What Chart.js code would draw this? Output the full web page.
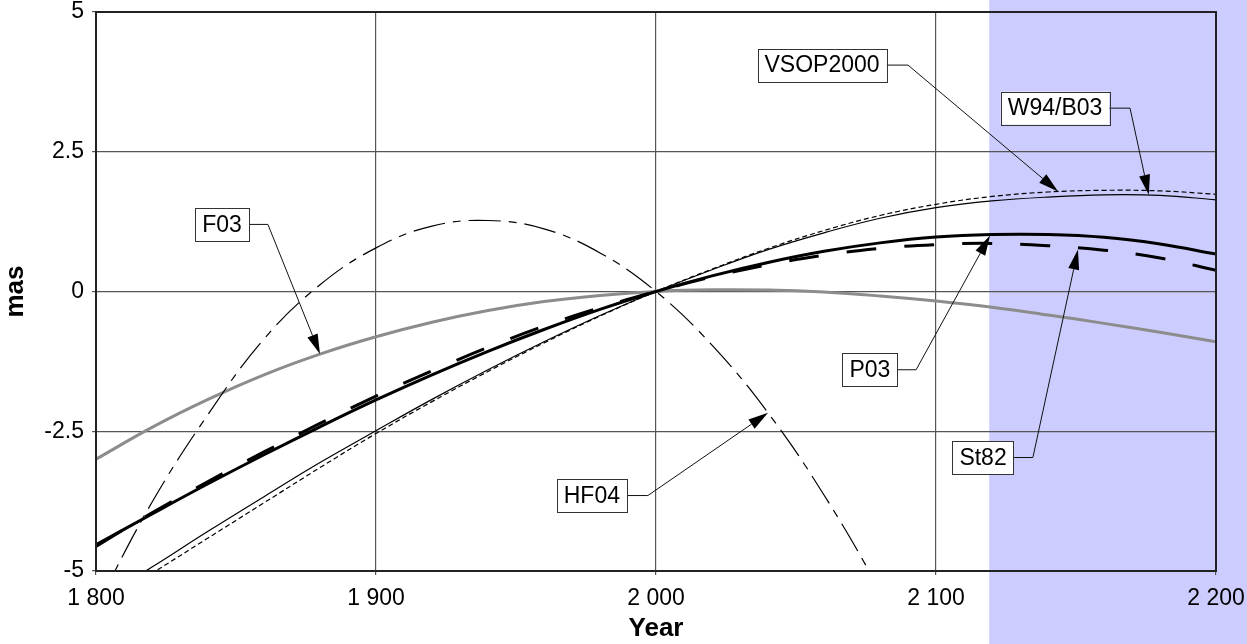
<!DOCTYPE html>
<html><head><meta charset="utf-8">
<script src="https://cdn.jsdelivr.net/npm/chart.js@4/dist/chart.umd.min.js"></script>
<style>html,body{margin:0;padding:0;background:#fff;} canvas{display:block;}</style>
</head><body>
<canvas id="c" width="1247" height="644"></canvas>
<script>
// ---- data ----
const years     = [1800,1820,1840,1860,1880,1900,1920,1940,1960,1980,2000,2020,2040,2060,2080,2100,2120,2140,2160,2180,2200];
const vsop2000  = [-5.55,-4.93,-4.29,-3.67,-3.06,-2.49,-1.93,-1.40,-0.90,-0.43,0,0.39,0.75,1.05,1.31,1.50,1.62,1.69,1.73,1.72,1.64];
const w94b03    = [-5.65,-5.04,-4.41,-3.78,-3.15,-2.54,-1.97,-1.43,-0.92,-0.44,0,0.40,0.77,1.09,1.36,1.56,1.70,1.78,1.81,1.80,1.74];
const p03       = [-4.53,-3.98,-3.44,-2.92,-2.42,-1.94,-1.49,-1.07,-0.68,-0.32,0,0.28,0.52,0.72,0.87,0.975,1.02,1.02,0.97,0.85,0.67];
const st82      = [-4.56,-3.96,-3.40,-2.87,-2.36,-1.87,-1.42,-1.00,-0.62,-0.29,0,0.26,0.48,0.65,0.77,0.84,0.86,0.82,0.74,0.60,0.38];
const f03       = [-3.00,-2.43,-1.93,-1.49,-1.12,-0.81,-0.55,-0.34,-0.18,-0.07,0,0.03,0.026,-0.01,-0.08,-0.17,-0.28,-0.42,-0.57,-0.73,-0.90];
const hf04      = [-5.65,-3.77,-2.20,-0.85,0.12,0.78,1.17,1.27,1.12,0.69,0,-0.96,-2.17,-3.64,-5.36,-7.32,null,null,null,null,null];
const xTicks      = [1800,1900,2000,2100,2200];
const xTickLabels = ['1 800','1 900','2 000','2 100','2 200'];
const yTicks      = [-5,-2.5,0,2.5,5];
const yTickLabels = ['-5','-2.5','0','2.5','5'];
const shadeStartYear = 2119;

// callout labels: box centre, knee of leader, arrow tip (data coordinates)
const callouts = [
  {text:'VSOP2000', box:[2059.3,4.05], knee:[2090,4.05],  tip:[2143.6,1.79]},
  {text:'W94/B03',  box:[2142.5,3.28], knee:[2169.3,3.28],tip:[2176,1.73]},
  {text:'F03',      box:[1845,1.20],   knee:[1861.4,1.20],tip:[1880,-1.12]},
  {text:'HF04',     box:[1977.1,-3.65],knee:[1997.1,-3.65],tip:[2040,-2.17]},
  {text:'P03',      box:[2076.4,-1.40],knee:[2092.9,-1.40],tip:[2119.3,1.00]},
  {text:'St82',     box:[2116.8,-2.97],knee:[2134.6,-2.97],tip:[2150.7,0.75]}
];

const FONT = '"Liberation Sans", Arial, sans-serif';
Chart.defaults.font.family = FONT;
Chart.defaults.color = '#000';

const pts = arr => years.map((y,i)=>({x:y, y:arr[i]}));

const plugin = {
  id:'deco',
  beforeDraw(chart){
    const {ctx,width,height} = chart;
    const x = chart.scales.x;
    ctx.save();
    ctx.fillStyle='#fff'; ctx.fillRect(0,0,width,height);
    const xs = x.getPixelForValue(shadeStartYear);
    ctx.fillStyle='#ccccff'; ctx.fillRect(xs,0,width-xs,height);
    ctx.restore();
  },
  afterDatasetsDraw(chart){
    const {ctx,chartArea:a} = chart;
    const x = chart.scales.x, y = chart.scales.y;
    ctx.save();
    ctx.strokeStyle='#222'; ctx.lineWidth=2;
    ctx.strokeRect(a.left,a.top,a.right-a.left,a.bottom-a.top);
    ctx.font = '23px ' + FONT;
    ctx.textBaseline='middle'; ctx.textAlign='center';
    for (const c of callouts){
      const bx = x.getPixelForValue(c.box[0]), by = y.getPixelForValue(c.box[1]);
      const kx = x.getPixelForValue(c.knee[0]), ky = y.getPixelForValue(c.knee[1]);
      const tx = x.getPixelForValue(c.tip[0]), ty = y.getPixelForValue(c.tip[1]);
      const w = ctx.measureText(c.text).width + 14, h = 33;
      const L = bx - w/2, T = by - h/2;
      const ang = Math.atan2(ty-ky, tx-kx);
      const alen = 20, aw = 5.5;
      const baseX = tx - alen*Math.cos(ang), baseY = ty - alen*Math.sin(ang);
      ctx.strokeStyle='#111'; ctx.lineWidth=1;
      ctx.beginPath(); ctx.moveTo(L+w, by); ctx.lineTo(kx, ky); ctx.lineTo(baseX, baseY); ctx.stroke();
      ctx.fillStyle='#000';
      ctx.beginPath();
      ctx.moveTo(tx,ty);
      ctx.lineTo(baseX + aw*Math.sin(ang), baseY - aw*Math.cos(ang));
      ctx.lineTo(baseX - aw*Math.sin(ang), baseY + aw*Math.cos(ang));
      ctx.closePath(); ctx.fill();
      ctx.fillStyle='#fff'; ctx.fillRect(L,T,w,h);
      ctx.strokeStyle='#333'; ctx.lineWidth=1;
      ctx.strokeRect(Math.round(L)+0.5, Math.round(T)+0.5, Math.round(w), Math.round(h));
      ctx.fillStyle='#000';
      ctx.fillText(c.text, bx, by+1);
    }
    ctx.restore();
  }
};

const common = {pointRadius:0, pointHoverRadius:0, tension:0.4, fill:false, spanGaps:false};
const zeroPad = s => { s.paddingTop = 0; s.paddingBottom = 0; s.paddingLeft = 0; s.paddingRight = 0; };

new Chart(document.getElementById('c'), {
  type:'line',
  data:{datasets:[
    {...common, label:'P03',      data:pts(p03),      borderColor:'#000', borderWidth:3},
    {...common, label:'St82',     data:pts(st82),     borderColor:'#000', borderWidth:3, borderDash:[30,28]},
    {...common, label:'VSOP2000', data:pts(vsop2000), borderColor:'#000', borderWidth:1.2},
    {...common, label:'W94/B03',  data:pts(w94b03),   borderColor:'#000', borderWidth:1.2, borderDash:[5,3]},
    {...common, label:'HF04',     data:pts(hf04),     borderColor:'#000', borderWidth:1.2, borderDash:[32,8,8,8]},
    {...common, label:'F03',      data:pts(f03),      borderColor:'#8c8c8c', borderWidth:3}
  ]},
  options:{
    responsive:false, animation:false,
    layout:{padding:{top:12,right:31,bottom:0,left:0}},
    plugins:{legend:{display:false}, tooltip:{enabled:false}},
    scales:{
      x:{type:'linear', min:1800, max:2200,
         afterBuildTicks:s=>{s.ticks = xTicks.map(v=>({value:v}));},
         afterFit:s=>{s.height = 73; zeroPad(s);},
         ticks:{callback:(v,i)=>xTickLabels[i], font:{size:23, lineHeight:1}, padding:12, maxRotation:0, autoSkip:false, color:'#000'},
         grid:{color:'#555', lineWidth:1.2, tickLength:4, drawTicks:true},
         border:{color:'#222', width:2},
         title:{display:true, text:'Year', font:{size:26, weight:'bold', lineHeight:1.2}, padding:{top:0,bottom:0}, color:'#000'}
      },
      y:{type:'linear', min:-5, max:5,
         afterBuildTicks:s=>{s.ticks = yTicks.map(v=>({value:v}));},
         afterFit:s=>{s.width = 96; zeroPad(s);},
         ticks:{callback:(v,i)=>yTickLabels[i], font:{size:23, lineHeight:1}, padding:8, color:'#000'},
         grid:{color:'#555', lineWidth:1.2, tickLength:4, drawTicks:true},
         border:{color:'#222', width:2},
         title:{display:true, text:'mas', font:{size:26, weight:'bold', lineHeight:1.2}, padding:{top:0,bottom:0}, color:'#000'}
      }
    }
  },
  plugins:[plugin]
});
</script>
</body></html>
